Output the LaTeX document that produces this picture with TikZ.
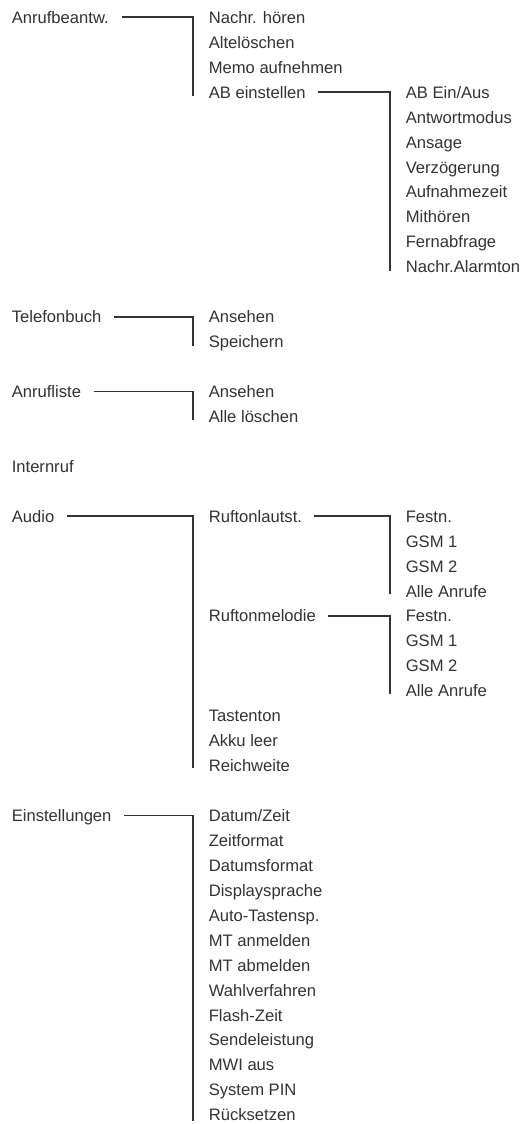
\documentclass[tikz,border=0pt]{standalone}
\usepackage{fontspec}
\setmainfont{Liberation Sans}
\usepackage{tikz}
\usetikzlibrary{matrix}
\definecolor{menugray}{gray}{0.2}
\newcommand{\menufont}{\fontsize{16.6pt}{20pt}\selectfont}

\begin{document}
\begin{tikzpicture}[x=1pt, y=1pt, line width=1.8pt, draw=menugray]
            \useasboundingbox (0,0) rectangle (522,-1124);
            \matrix(menu)[matrix of nodes, anchor=north west, inner sep=0pt,
                nodes={anchor=west, inner sep=0pt, text height=12pt, text depth=0pt, font=\menufont, text=menugray},
                row sep={24.94pt,between origins}, column sep={197pt,between origins}] at (10,-10.5) {
            Anrufbeantw. & Nachr. hören & \\
                & Altelöschen & \\
                & Memo aufnehmen & \\
                & AB einstellen & AB Ein/Aus \\
                & & Antwortmodus \\
                & & Ansage \\
                & & Verzögerung \\
                & & Aufnahmezeit \\
                & & Mithören \\
                & & Fernabfrage \\
                & & Nachr.Alarmton \\[24.94pt]
            Telefonbuch & Ansehen & \\
                & Speichern & \\[24.94pt]
            Anrufliste & Ansehen & \\
                & Alle löschen & \\[24.94pt]
            Internruf & & \\[24.94pt]
            Audio & Ruftonlautst. & Festn. \\
                & & GSM 1 \\
                & & GSM 2 \\
                & & Alle Anrufe \\
                & Ruftonmelodie & Festn. \\
                & & GSM 1 \\
                & & GSM 2 \\
                & & Alle Anrufe \\
                & Tastenton & \\
                & Akku leer & \\
                & Reichweite & \\[24.94pt]
            Einstellungen & Datum/Zeit & \\
                & Zeitformat & \\
                & Datumsformat & \\
                & Displaysprache & \\
                & Auto-Tastensp. & \\
                & MT anmelden & \\
                & MT abmelden & \\
                & Wahlverfahren & \\
                & Flash-Zeit & \\
                & Sendeleistung & \\
                & MWI aus & \\
                & System PIN & \\
                & Rücksetzen & \\
            };
            \draw([xshift=12pt]menu-1-1.east)-|([xshift=-15pt, yshift=-4pt]menu-4-2.west);
            \draw([xshift=11pt]menu-4-2.east)-|([xshift=-15pt, yshift=-4pt]menu-11-3.west);
            \draw([xshift=12pt]menu-12-1.east)-|([xshift=-15pt, yshift=-4pt]menu-13-2.west);
            \draw([xshift=12pt]menu-14-1.east)-|([xshift=-15pt, yshift=-4pt]menu-15-2.west);
            \draw([xshift=12pt]menu-17-1.east)-|([xshift=-15pt, yshift=-2pt]menu-27-2.west);
            \draw([xshift=11pt]menu-17-2.east)-|([xshift=-15pt, yshift=-3pt]menu-20-3.west);
            \draw([xshift=11pt]menu-21-2.east)-|([xshift=-15pt, yshift=-3pt]menu-24-3.west);
            \draw([xshift=12pt]menu-28-1.east)-|([xshift=-15pt, yshift=-6pt]menu-40-2.west);
        \end{tikzpicture}
\end{document}
